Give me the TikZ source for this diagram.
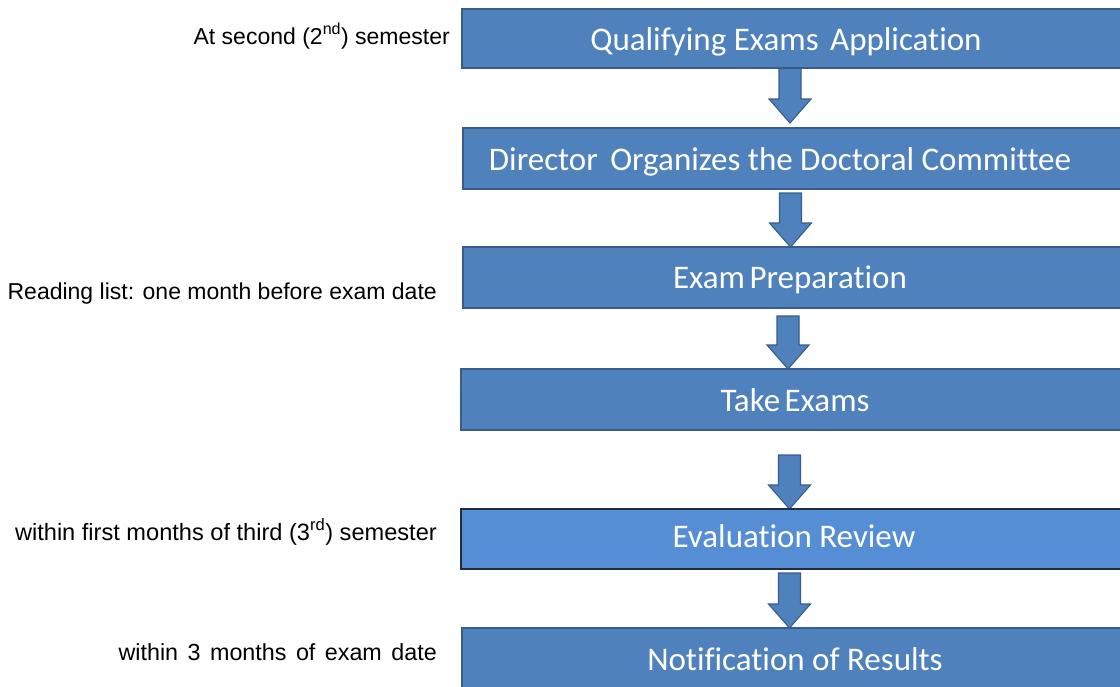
\documentclass[tikz,border=0pt]{standalone}
\usepackage{fontspec}
\setmainfont{Liberation Sans}
\newfontfamily\boxfont[RawFeature={-liga;-clig;-calt;-dlig}]{Carlito}
\usetikzlibrary{calc}
\definecolor{boxfill}{HTML}{4F81BD}
\definecolor{boxline}{HTML}{385D8A}
\definecolor{evalfill}{HTML}{558ED5}
\definecolor{evalline}{HTML}{1F2D3F}
\tikzset{
  flowbox/.style={draw=boxline, fill=boxfill, line width=1.3pt, rectangle, anchor=north west, minimum width=690pt, inner sep=0pt, outer sep=0pt},
  evalbox/.style={flowbox, draw=evalline, fill=evalfill},
  boxtext/.style={font=\boxfont\fontsize{33}{36}\selectfont, text=white, anchor=base, inner sep=0pt},
  sidetext/.style={font=\fontsize{23}{26}\selectfont, text=black, anchor=base east, inner sep=0pt},
  flowarr/.style={draw=boxline, fill=boxfill, line width=1.1pt, line join=miter}
}
\newcommand\flowarrow[5]{%
  \path[flowarr] let \p1=(#1.south), \p2=(#2.north) in
    (#3pt-11pt,\y1+#4) -- (#3pt+11pt,\y1+#4) -- (#3pt+11pt,\y2+24pt+#5)
    -- (#3pt+21pt,\y2+24pt+#5) -- (#3pt,\y2+#5) -- (#3pt-21pt,\y2+24pt+#5)
    -- (#3pt-11pt,\y2+24pt+#5) -- cycle;}
\begin{document}
\begin{tikzpicture}[x=1pt,y=-1pt]
\useasboundingbox (0,0) rectangle (1120,686);
\fill[white] (0,0) rectangle (1120,686);
% box positions used by the arrows
\path
  (462,9)   node[flowbox, minimum height=59pt] (b1) {}
  (463,128) node[flowbox, minimum height=61pt] (b2) {}
  (463,247) node[flowbox, minimum height=61pt] (b3) {}
  (461,369) node[flowbox, minimum height=61pt] (b4) {}
  (461,509) node[evalbox, minimum height=60pt] (b5) {}
  (462,628) node[flowbox, minimum height=75pt] (b6) {};
% arrows
\flowarrow{b1}{b2}{790}{4pt}{5pt}
\flowarrow{b2}{b3}{790.5}{-4pt}{0pt}
\flowarrow{b3}{b4}{788}{-8pt}{0pt}
\flowarrow{b4}{b5}{789.5}{-25pt}{0pt}
\flowarrow{b5}{b6}{789.5}{-4pt}{0pt}
% boxes again on top of the arrow ends
\path
  (462,9)   node[flowbox, minimum height=59pt] (c1) {}
  (463,128) node[flowbox, minimum height=61pt] (c2) {}
  (463,247) node[flowbox, minimum height=61pt] (c3) {}
  (461,369) node[flowbox, minimum height=61pt] (c4) {}
  (461,509) node[evalbox, minimum height=60pt] (c5) {}
  (462,628) node[flowbox, minimum height=75pt] (c6) {};
% box texts
\node[boxtext] (t1) at (786,50)  {Qualifying Exams\hspace{4pt} Application};
\node[boxtext] (t2) at (780,170) {Director\hspace{5pt} Organizes the Doctoral Committee};
\node[boxtext] (t3) at (790,288) {Exam\hspace{-3pt} Preparation};
\node[boxtext] (t4) at (795,411) {Take\hspace{-3pt} Exams};
\node[boxtext] (t5) at (794,547) {Evaluation Review};
\node[boxtext] (t6) at (795,670) {Notification of Results};
% side texts
\node[sidetext] (s1) at (450,44)  {At second (2\textsuperscript{nd}) semester};
\node[sidetext] (s2) at (437,299) {Reading list: one month before exam date};
\node[sidetext, font=\fontsize{23.6}{26}\selectfont] (s3) at (437,540) {within first months of third (3\textsuperscript{rd}) semester};
\node[sidetext, font=\fontsize{23.3}{26}\selectfont] (s4) at (437,660) {\spaceskip=9.5pt\relax within 3 months of exam date};
\end{tikzpicture}
\end{document}
